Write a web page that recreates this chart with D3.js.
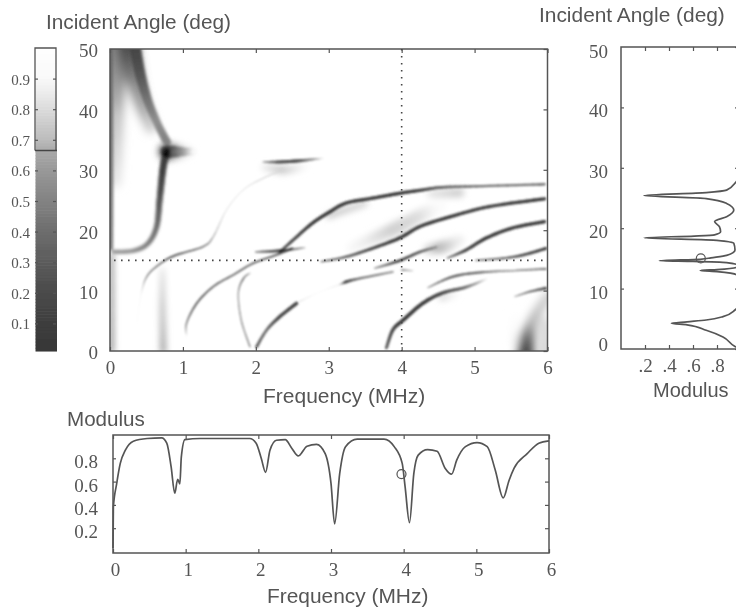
<!DOCTYPE html>
<html><head><meta charset="utf-8">
<style>html,body{margin:0;padding:0;background:#fff;overflow:hidden}svg{display:block}</style>
<script src="https://cdnjs.cloudflare.com/ajax/libs/d3/7.8.5/d3.min.js"></script>
</head><body><svg id="c" width="736" height="609"></svg>
<script>
// ---------- DATA (frequency MHz, angle deg, modulus) ----------
const colorStops = [0,.1,.2,.3,.4,.5,.6,.66,.7,.8,.85,.9,1];
const colorGreys = ["#363636","#3e3e3e","#4b4b4b","#5c5c5c","#6e6e6e","#838383","#999999","#a9a9a9","#bdbdbd","#dcdcdc","#ececec","#f9f9f9","#ffffff"];
const colorTicks = [.1,.2,.3,.4,.5,.6,.7,.8,.9];
const currentModulus = 0.665, cutFreq = 4, cutAngle = 15;
const freqTicks=[0,1,2,3,4,5,6], angleTicks=[0,10,20,30,40,50], modTicksB=[.2,.4,.6,.8], modTicksR=[.2,.4,.6,.8];

// Bottom panel: modulus vs. frequency at the 15 degree cut
const cutFreqCurve = [[0,.03],[.005,.38],[.05,.58],[.1,.756],[.17,.87],[.28,.947],[.47,.97],[.67,.975],[.74,.93],[.8,.727],[.85,.5],[.89,.62],[.92,.58],[.94,.81],[.99,.96],[1.2,.97],[1.88,.97],[1.97,.93],[2.04,.8],[2.1,.68],[2.16,.87],[2.25,.955],[2.37,.96],[2.46,.887],[2.55,.82],[2.67,.904],[2.8,.92],[2.92,.84],[3.0,.585],[3.05,.236],[3.12,.67],[3.2,.9],[3.36,.965],[3.73,.965],[3.87,.9],[3.98,.756],[4.02,.555],[4.08,.247],[4.14,.67],[4.2,.827],[4.33,.875],[4.46,.86],[4.57,.715],[4.66,.664],[4.73,.784],[4.85,.9],[5.01,.935],[5.15,.9],[5.26,.7],[5.37,.46],[5.45,.61],[5.52,.715],[5.7,.84],[5.86,.93],[6,.95]];
// Right panel: modulus vs. angle at the 4 MHz cut
const cutAngleCurve = [[.99,0],[.95,.4],[.85,2],[.71,3.1],[.55,4],[.42,4.25],[.55,4.5],[.71,4.8],[.85,5.35],[.95,6.45],[1,8],[1,11],[.96,12.3],[.8,12.8],[.66,13],[.8,13.15],[.96,13.5],[.98,13.8],[.88,14.3],[.6,14.5],[.32,14.6],[.66,14.85],[.75,15.1],[.88,15.5],[.95,16.4],[.94,17.5],[.8,18],[.19,18.4],[.61,18.7],[.78,18.9],[.83,19.4],[.82,20.25],[.78,21.1],[.88,21.9],[.94,23],[.88,24.1],[.71,24.9],[.19,25.4],[.71,25.9],[.88,26.3],[.96,27.7],[1,29],[1,50]];

// Heat-map ridges: [frequency, angle, modulus]
const ridgeBranchLow = [[.05,16.4,.62],[.32,16.6,.58],[.52,17.8,.5],[.64,20.6,.42],[.68,25,.28],[.73,30.5,.12],[.78,33,.08]];
const ridgeLongC = [[.37,4.6,.95],[.43,9.6,.88],[.52,12.6,.55],[.73,14.8,.42],[.91,15.9,.28],[1.28,17.3,.45],[1.42,19,.65],[1.6,23.4,.82],[1.83,26.7,.82],[2.1,28.6,.78],[2.37,30,.78]];
const ridgeTopStub = [[2.1,31.3,.8],[2.33,31.3,.25],[2.6,31.5,.2],[2.92,31.9,.85]];
const ridgeD = [[1.05,2.5,.92],[1.05,4.6,.55],[1.19,7.9,.32],[1.42,10.7,.38],[1.69,12.6,.42],[1.96,14.5,.38],[2.28,15.9,.32],[2.5,17,.28]];
const ridgeE = [[1.92,.7,.5],[1.8,5.1,.55],[1.76,9.6,.6],[1.83,12,.4],[1.92,12.9,.7]];
const ridgeF = [[2.01,.7,.32],[2.15,3.5,.42],[2.33,5.7,.2],[2.56,7.9,.15]];
const ridgeF2 = [[2.6,8.2,.8],[2.88,9.8,.93],[3.15,11,.85],[3.25,11.5,.12],[3.42,12,.38],[3.88,13.1,.55]];
const ridgeF3 = [[4,13.4,.45],[4.15,13.3,.75]];
const ridgeG = [[2.33,16.4,.32],[2.56,18.9,.2],[2.78,21.2,.08],[3.01,23,.05],[3.24,24.5,.08],[3.6,25.3,.08],[3.97,26.1,.05],[4.25,26.6,.12],[4.56,27.1,.32],[5.11,27.3,.42],[5.96,27.6,.42]];
const ridgeH = [[2.0,16.4,.65],[2.33,16.6,.18],[2.67,17.1,.7]];
const ridgeI = [[2.9,14.8,.6],[3.24,15.6,.38],[3.6,17,.2],[3.97,18.7,.05],[4.25,20.6,.08],[4.66,22.2,.08],[5.2,23.9,.12],[5.96,25.2,.06]];
const ridgeJa = [[3.63,13.7,.72],[3.97,14.95,.18],[4.25,16.4,.28],[4.48,17.2,.55]];
const ridgeJb = [[4.63,15.4,.65],[4.88,16.7,.2],[5.16,18.7,.06],[5.53,20.4,.08],[5.96,21.4,.06]];
const ridgeK = [[5.02,15,.6],[5.43,15.4,.38],[5.7,16,.2],[5.98,17,.08]];
const ridgeL = [[4.36,10.5,.72],[4.7,12.3,.28],[5.07,13,.32],[5.52,13.3,.6],[5.98,13.6,.42]];
const ridgeM = [[3.79,.5,.38],[3.88,3.5,.22],[4.02,5.1,.08],[4.29,7.9,.08],[4.56,9.6,.18],[4.89,10.6,.38],[5.16,11.9,.85]];
const ridgeN = [[5.55,9,.78],[5.75,9.8,.48],[5.98,10.4,.22]];

// Broad, diffuse regions of the heat map
const hazeTop = [[.24,53,.22],[.3,47,.35],[.4,42,.55],[.56,37,.72]];
const hazeBand = [[.32,52,.12],[.36,49,.15],[.43,45,.25],[.53,41,.42],[.66,37.4,.55],[.78,34.6,.5]];
const hazeLobe = [[.78,33,.02],[.9,33,.22],[1.16,33,.9]];
const hazeLobeGlow = [[.78,33,.35],[.95,33,.65],[1.1,33,.88]];
const hazeEdgeStrip = [[.01,52,.35],[.01,30,.4],[.01,17,.45]];
const hazeEdgeTop = [[.1,53,.38],[.1,46,.5],[.09,38,.7],[.07,28,.82]];
const hazeEdgeLow = [[.02,16,.62],[.02,0,.55]];
const hazeVertical = [[.72,13.5,.85],[.72,7,.72],[.73,0,.65]];
const hazeStub = [[2.1,30.4,.9],[2.4,30,.72],[2.7,30.6,.9]];
const hazeMid = [[3.3,17,.92],[3.6,18.6,.85],[3.95,20.5,.76],[4.3,22.7,.8],[4.55,24,.92]];
const hazeG = [[3.0,22.4,.72],[3.5,24.4,.76]];
const hazeG2 = [[4.4,26,.85],[4.8,26.2,.76]];
const hazeJ = [[4.35,16.8,.85],[4.58,17.3,.68],[4.8,18.4,.85]];
const hazeM = [[4.55,8.8,.75],[4.75,9.4,.88]];
const hazeArch = [[5.7,-1,.02],[5.72,2,.2],[5.8,5,.65],[5.92,7.5,.7],[6.05,9.5,.72]];
const hazeArch2 = [[5.97,-1,.68],[5.97,5,.72]];
const hazeArch3 = [[5.55,1,.85],[5.55,6,.92]];

// ---------- DRAWING ----------
const svg = d3.select("#c");
const INK = "#555", SERIF = "'Liberation Serif',serif", SANS = "'Liberation Sans',sans-serif";
const defs = svg.append("defs");
[["soft",.45],["thin",.8],["mid",1.7],["haze",3.2],["wide",5]].forEach(([id,s])=>{
  defs.append("filter").attr("id",id).attr("filterUnits","userSpaceOnUse").attr("x",0).attr("y",0).attr("width",736).attr("height",609)
    .append("feGaussianBlur").attr("stdDeviation",s);
});
const grey = d3.scaleLinear().domain(colorStops).range(colorGreys).interpolate(d3.interpolateRgb);
const fmtInt = d3.format("d");

// Scales
const X = d3.scaleLinear().domain([0,6]).range([110,547.5]);
const Y = d3.scaleLinear().domain([0,50]).range([351,49]);
const CB = d3.scaleLinear().domain([0,1]).range([354,48]);
const XB = d3.scaleLinear().domain([0,6]).range([113,549]);
const YB = d3.scaleLinear().domain([0,1]).range([551.5,435]);
const XR = d3.scaleLinear().domain([0,1]).range([621,741]);
const YR = d3.scaleLinear().domain([0,50]).range([349,47]);

defs.append("clipPath").attr("id","plot").append("rect")
  .attr("x",X(0)).attr("y",Y(50)).attr("width",X(6)-X(0)).attr("height",Y(0)-Y(50));

// Smoothly stroked ridge: the read points are joined by a spline in pixel space,
// with tone and thickness following the modulus read at each point.
const heat = svg.append("g").attr("clip-path","url(#plot)");
function ridge(layer,pts,w){
  const s = layer.append("g").style("mix-blend-mode","multiply");
  const P = pts.map(d=>[X(d[0]),Y(d[1]),d[2]]);
  const at = i=>P[Math.max(0,Math.min(P.length-1,i))];
  const cr = (a,b,c,d,t)=>0.5*((2*b)+(c-a)*t+(2*a-5*b+4*c-d)*t*t+(3*b-a-3*c+d)*t*t*t);
  for(let i=0;i<P.length-1;i++){
    const [p0,p1,p2,p3]=[at(i-1),at(i),at(i+1),at(i+2)];
    const n=8; let prev=p1;
    for(let k=1;k<=n;k++){
      const t=k/n, m=p1[2]+(p2[2]-p1[2])*t;
      const cur=[cr(p0[0],p1[0],p2[0],p3[0],t),cr(p0[1],p1[1],p2[1],p3[1],t),m];
      s.append("line").attr("x1",prev[0]).attr("y1",prev[1]).attr("x2",cur[0]).attr("y2",cur[1])
        .attr("stroke",grey(m)).attr("stroke-width",w*(1.15-0.85*m)).attr("stroke-linecap","round");
      prev=cur;
    }
  }
}
const wide = heat.append("g").attr("filter","url(#wide)");
ridge(wide,hazeEdgeTop,24); ridge(wide,hazeTop,20); ridge(wide,hazeArch,15);
ridge(wide,hazeArch2,12); ridge(wide,hazeArch3,10);
const haze = heat.append("g").attr("filter","url(#haze)");
ridge(haze,hazeEdgeLow,7); ridge(haze,hazeVertical,10); ridge(haze,hazeStub,14); ridge(haze,hazeLobeGlow,22);
ridge(haze,hazeMid,26); ridge(haze,hazeG,11); ridge(haze,hazeG2,18); ridge(haze,hazeJ,20); ridge(haze,hazeM,12);
const mid = heat.append("g").attr("filter","url(#mid)");
ridge(mid,ridgeBranchLow,6.5); ridge(mid,hazeBand,11); ridge(mid,hazeLobe,11); ridge(mid,hazeEdgeStrip,6);
const thin = heat.append("g").attr("filter","url(#thin)");
[[ridgeLongC,2.1],[ridgeTopStub,3.2],[ridgeD,2.2],[ridgeE,1.9],[ridgeF,3.3],[ridgeF2,2.6],[ridgeF3,2.2],[ridgeG,3],[ridgeH,2.8],
 [ridgeI,3],[ridgeJa,2.8],[ridgeJb,3],[ridgeK,2.6],[ridgeL,2.4],[ridgeM,3.4],[ridgeN,2.6]].forEach(([p,w])=>ridge(thin,p,w));

// Everything else gets a slight softening to match the scanned line art
const ink = svg.append("g").attr("filter","url(#soft)");

function frame(x0,y0,x1,y1){
  ink.append("rect").attr("x",x0).attr("y",y0).attr("width",x1-x0).attr("height",y1-y0)
    .attr("fill","none").attr("stroke",INK).attr("stroke-width",1.5);
}
function styleAxis(g,font,size){
  g.select(".domain").remove();
  g.selectAll("line").attr("stroke",INK).attr("stroke-width",1.2);
  g.selectAll("text").attr("fill",INK).attr("font-family",font).attr("font-size",size);
}
const fmtDot = d=>d3.format(".1f")(d).replace(/^0/,"");

// Main axes
frame(X(0),Y(50),X(6),Y(0));
let g = ink.append("g").attr("transform",`translate(0,${Y(0)})`).call(d3.axisBottom(X).tickValues(freqTicks).tickSize(-4).tickPadding(10).tickFormat(fmtInt));
styleAxis(g,SERIF,19);
g = ink.append("g").attr("transform",`translate(0,${Y(50)})`).call(d3.axisTop(X).tickValues(freqTicks).tickSize(-4).tickFormat(""));
styleAxis(g,SERIF,19);
g = ink.append("g").attr("transform",`translate(${X(0)},0)`).call(d3.axisLeft(Y).tickValues(angleTicks).tickSize(0).tickPadding(12).tickFormat(fmtInt));
styleAxis(g,SERIF,19); g.selectAll("text").attr("dy","0.42em");
g = ink.append("g").attr("transform",`translate(${X(6)},0)`).call(d3.axisRight(Y).tickValues(angleTicks).tickSize(-4).tickFormat(""));
styleAxis(g,SERIF,19);

// Cut lines
ink.append("line").attr("x1",X(cutFreq)).attr("x2",X(cutFreq)).attr("y1",Y(50)).attr("y2",Y(0))
  .attr("stroke","#444").attr("stroke-width",1.6).attr("stroke-dasharray","1.6,5.4");
ink.append("line").attr("x1",X(0)+4).attr("x2",X(6)).attr("y1",Y(cutAngle)).attr("y2",Y(cutAngle))
  .attr("stroke","#444").attr("stroke-width",1.6).attr("stroke-dasharray","1.6,5.4");

// Colour bar
const cbVals = d3.range(1,100).map(d=>d/100);
ink.append("g").selectAll("rect").data(cbVals).join("rect")
  .attr("x",35.5).attr("width",21.5).attr("y",d=>CB(d+.01)).attr("height",d=>CB(d)-CB(d+.01)+.6)
  .attr("fill",d=>grey(d));
ink.append("path").attr("d",`M35,${CB(currentModulus)}V${CB(1)}H56V${CB(currentModulus)}`)
  .attr("fill","none").attr("stroke",INK).attr("stroke-width",1.3);
ink.append("line").attr("x1",35).attr("x2",57).attr("y1",CB(currentModulus)).attr("y2",CB(currentModulus))
  .attr("stroke","#444").attr("stroke-width",1.5);
g = ink.append("g").attr("transform","translate(35,0)").call(d3.axisLeft(CB).tickValues(colorTicks).tickSize(-3).tickPadding(5).tickFormat(d3.format(".1f")));
styleAxis(g,SERIF,15); g.selectAll("text").attr("dy","0.36em");
g = ink.append("g").attr("transform","translate(56,0)").call(d3.axisRight(CB).tickValues(colorTicks).tickSize(-3).tickFormat(""));
styleAxis(g,SERIF,13);

// Bottom panel
frame(XB(0),YB(1),XB(6),YB(0)+1.5);
g = ink.append("g").attr("transform",`translate(0,${YB(0)+1.5})`).call(d3.axisBottom(XB).tickValues(freqTicks).tickSize(-4).tickPadding(10).tickFormat(fmtInt));
styleAxis(g,SERIF,19);
g.selectAll("text").attr("dx",2);
g = ink.append("g").attr("transform",`translate(0,${YB(1)})`).call(d3.axisTop(XB).tickValues(freqTicks).tickSize(-4).tickFormat(""));
styleAxis(g,SERIF,17);
g = ink.append("g").attr("transform",`translate(${XB(0)},0)`).call(d3.axisLeft(YB).tickValues(modTicksB).tickSize(-3).tickPadding(15).tickFormat(d3.format(".1f")));
styleAxis(g,SERIF,19); g.selectAll("text").attr("dy","0.5em");
g = ink.append("g").attr("transform",`translate(${XB(6)},0)`).call(d3.axisRight(YB).tickValues(modTicksB).tickSize(-4).tickFormat(""));
styleAxis(g,SERIF,17);
const lineB = d3.line().x(d=>XB(d[0])).y(d=>YB(d[1])).curve(d3.curveMonotoneX);
ink.append("path").attr("d",lineB(cutFreqCurve)).attr("fill","none").attr("stroke",INK).attr("stroke-width",1.7).attr("stroke-linejoin","round");
ink.append("circle").attr("cx",XB(3.97)).attr("cy",YB(currentModulus)).attr("r",4.5).attr("fill","none").attr("stroke",INK).attr("stroke-width",1.2);

// Right panel
frame(XR(0),YR(50),XR(1),YR(0));
g = ink.append("g").attr("transform",`translate(0,${YR(0)})`).call(d3.axisBottom(XR).tickValues(modTicksR).tickSize(-4).tickPadding(10).tickFormat(fmtDot));
styleAxis(g,SERIF,19);
g = ink.append("g").attr("transform",`translate(0,${YR(50)})`).call(d3.axisTop(XR).tickValues(modTicksR).tickSize(-4).tickFormat(""));
styleAxis(g,SERIF,17);
g = ink.append("g").attr("transform",`translate(${XR(0)},0)`).call(d3.axisLeft(YR).tickValues(angleTicks.filter(d=>d>0&&d<50)).tickSize(-3).tickPadding(13).tickFormat(fmtInt));
styleAxis(g,SERIF,19); g.selectAll("text").attr("dy","0.5em");
g = ink.append("g").attr("transform",`translate(${XR(0)},0)`).call(d3.axisLeft(YR).tickValues([0,50]).tickSize(0).tickPadding(13).tickFormat(fmtInt));
styleAxis(g,SERIF,19); g.selectAll("text").attr("dy",d=>d?"0.55em":"0.1em");
g = ink.append("g").attr("transform",`translate(${XR(1)},0)`).call(d3.axisRight(YR).tickValues(angleTicks).tickSize(-6).tickFormat(""));
styleAxis(g,SERIF,17);
const lineR = d3.line().x(d=>XR(d[0])).y(d=>YR(d[1])).curve(d3.curveMonotoneY);
ink.append("path").attr("d",lineR(cutAngleCurve)).attr("fill","none").attr("stroke",INK).attr("stroke-width",1.7).attr("stroke-linejoin","round");
ink.append("circle").attr("cx",XR(currentModulus)).attr("cy",YR(cutAngle)).attr("r",4.5).attr("fill","none").attr("stroke",INK).attr("stroke-width",1.2);

// Titles
[["Incident Angle (deg)",46,29,20.8],["Incident Angle (deg)",539,22,20.9],["Frequency (MHz)",263,403,21],["Modulus",653,397,20],["Modulus",67,426,20.6],["Frequency (MHz)",267,603,20.9]]
 .forEach(([t,x,y,s])=>ink.append("text").text(t).attr("x",x).attr("y",y).attr("fill",INK).attr("font-family",SANS).attr("font-size",s));
</script></body></html>
